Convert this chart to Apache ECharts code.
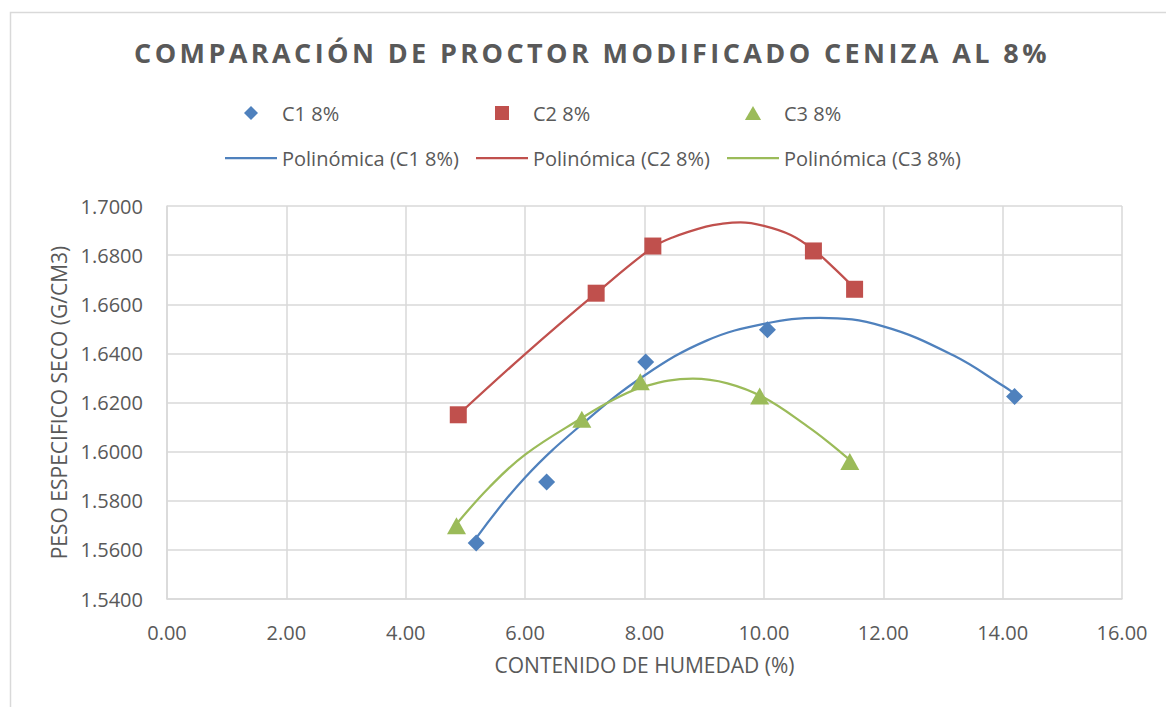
<!DOCTYPE html>
<html>
<head>
<meta charset="utf-8">
<script src="https://cdn.jsdelivr.net/npm/echarts@6/dist/echarts.min.js"></script>
<style>
html,body{margin:0;padding:0;background:#ffffff;}
#chart{width:1166px;height:707px;}
</style>
</head>
<body>
<div id="chart"></div>
<script>
// ---------- texts ----------
const titleText = 'COMPARACIÓN DE PROCTOR MODIFICADO CENIZA AL 8%';
const xAxisName = 'CONTENIDO DE HUMEDAD (%)';
const yAxisName = 'PESO ESPECIFICO SECO (G/CM3)';
const pointNames = ['C1 8%', 'C2 8%', 'C3 8%'];
const trendNames = ['Polinómica (C1 8%)', 'Polinómica (C2 8%)', 'Polinómica (C3 8%)'];

// ---------- axes ----------
const xMin = 0, xMax = 16, xStep = 2;
const yMin = 1.54, yMax = 1.70, yStep = 0.02;

// ---------- measured points ----------
const c1X = [5.18, 6.36, 8.02, 10.06, 14.20];
const c1Y = [1.5628, 1.5876, 1.6365, 1.6496, 1.6224];
const c2X = [4.88, 7.19, 8.14, 10.83, 11.52];
const c2Y = [1.6150, 1.6645, 1.6837, 1.6817, 1.6661];
const c3X = [4.85, 6.95, 7.93, 9.93, 11.44];
const c3Y = [1.5698, 1.6132, 1.6284, 1.6226, 1.5960];

// ---------- trend lines ----------
const t1X = [5.18, 6.00, 6.97, 8.00, 9.04, 10.00, 10.94, 12.00, 13.18, 14.02, 14.20];
const t1Y = [1.5648, 1.5895, 1.6115, 1.6310, 1.6452, 1.6520, 1.6545, 1.6510, 1.6391, 1.6266, 1.6236];
const t2X = [4.88, 6.00, 7.19, 8.14, 8.47, 9.03, 9.31, 9.61, 10.00, 10.45, 10.83, 11.18, 11.52];
const t2Y = [1.6150, 1.6397, 1.6645, 1.6832, 1.6872, 1.6916, 1.6928, 1.6933, 1.6919, 1.6882, 1.6822, 1.6746, 1.6665];
const t3X = [4.85, 5.40, 6.00, 6.97, 7.47, 8.00, 8.81, 9.39, 10.00, 10.73, 11.10, 11.44];
const t3Y = [1.5705, 1.5855, 1.5988, 1.6140, 1.6210, 1.6266, 1.6297, 1.6278, 1.6220, 1.6103, 1.6035, 1.5966];

const colors = ['#4F81BD', '#C0504D', '#9BBB59'];
const FONT = 'Open Sans';
const TXT = '#595959';

function pairs(xs, ys) { return xs.map((x, i) => [x, ys[i]]); }

const pointSymbols = ['diamond', 'rect', 'triangle'];
const pointSizes = [17, 17, [19, 17]];
const legendIcons = [
  'path://M7,0L14,7L7,14L0,7Z',
  'path://M0,0L14,0L14,14L0,14Z',
  'path://M7.5,0L15,13L0,13Z'
];
// visible icon widths inside the 52px legend box (used to place the box)
const legendIconW = [14, 14, 16.15];
const lineIcon = 'path://M0,0L52,0L52,2.25L0,2.25Z';
const legendLefts = [225, 476, 727];

const pointData = [pairs(c1X, c1Y), pairs(c2X, c2Y), pairs(c3X, c3Y)];
const trendData = [pairs(t1X, t1Y), pairs(t2X, t2Y), pairs(t3X, t3Y)];

const series = [];
for (let i = 0; i < 3; i++) {
  series.push({
    name: trendNames[i], type: 'line', data: trendData[i],
    symbol: 'none', showSymbol: false, smooth: 0.4,
    lineStyle: { color: colors[i], width: 2.25 }, itemStyle: { color: colors[i] },
    z: 2, silent: true
  });
}
for (let i = 0; i < 3; i++) {
  series.push({
    name: pointNames[i], type: 'scatter', data: pointData[i],
    symbol: pointSymbols[i], symbolSize: pointSizes[i],
    itemStyle: { color: colors[i], opacity: 1 }, z: 3, silent: true
  });
}

const legends = [];
for (let i = 0; i < 3; i++) {
  legends.push({
    data: [{ name: pointNames[i], icon: legendIcons[i] }],
    left: legendLefts[i] + (52 - legendIconW[i]) / 2, top: 103, padding: 0,
    itemWidth: 52, itemHeight: 14, selectedMode: false,
    textStyle: { fontFamily: FONT, fontSize: 20, color: TXT }
  });
  legends.push({
    data: [{ name: trendNames[i], icon: lineIcon }],
    left: legendLefts[i], top: 148, padding: 0,
    itemWidth: 52, itemHeight: 14, selectedMode: false,
    textStyle: { fontFamily: FONT, fontSize: 20, color: TXT }
  });
}

const gridColor = '#D9D9D9';

const option = {
  animation: false,
  backgroundColor: '#ffffff',
  title: {
    text: titleText, left: 587, top: 34, textAlign: 'center',
    textStyle: { fontFamily: FONT, fontWeight: 'bold', fontSize: 27, color: TXT }
  },
  legend: legends,
  grid: { left: 167, right: 44, top: 206, bottom: 108, containLabel: false },
  xAxis: {
    type: 'value', min: xMin, max: xMax, interval: xStep,
    name: xAxisName, nameLocation: 'middle', nameGap: 55,
    nameTextStyle: { fontFamily: FONT, fontSize: 21, color: TXT },
    axisLine: { show: true, lineStyle: { color: gridColor, width: 1.5 } },
    axisTick: { show: false },
    axisLabel: { margin: 23, fontFamily: FONT, fontSize: 20, color: TXT,
      formatter: v => v.toFixed(2) },
    splitLine: { show: true, lineStyle: { color: gridColor, width: 1.5 } }
  },
  yAxis: {
    type: 'value', min: yMin, max: yMax, interval: yStep,
    name: yAxisName, nameLocation: 'middle', nameGap: 94,
    nameTextStyle: { fontFamily: FONT, fontSize: 21, color: TXT },
    axisLine: { show: true, lineStyle: { color: gridColor, width: 1.5 } },
    axisTick: { show: false },
    axisLabel: { margin: 24, fontFamily: FONT, fontSize: 20, color: TXT,
      formatter: v => v.toFixed(4) },
    splitLine: { show: true, lineStyle: { color: gridColor, width: 1.5 } }
  },
  graphic: [{
    type: 'rect', left: 8, top: 10, silent: true, z: -1,
    shape: { width: 1170, height: 710 },
    style: { fill: 'none', stroke: gridColor, lineWidth: 1.5 }
  }],
  series: series
};

const chart = echarts.init(document.getElementById('chart'), null, { renderer: 'svg' });
chart.setOption(option);

function applySpacing() {
  document.querySelectorAll('#chart svg text').forEach(t => {
    if (t.textContent === titleText) t.setAttribute('letter-spacing', '3.4px');
  });
}
chart.on('finished', applySpacing);
applySpacing();
</script>
</body>
</html>
